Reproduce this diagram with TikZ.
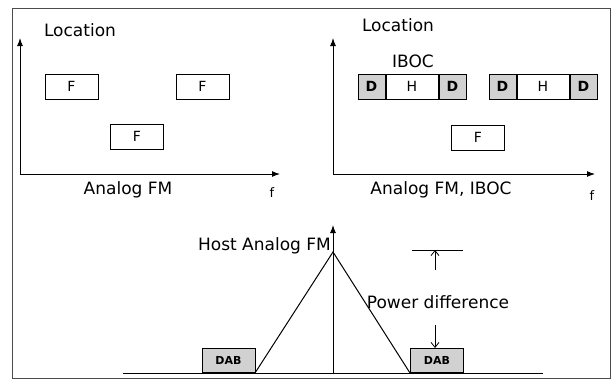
\documentclass[tikz,border=0pt]{standalone}
\usepackage{fontspec}
\setmainfont{DejaVu Sans}
\usetikzlibrary{arrows.meta, positioning}
\tikzstyle{fmbox} = [rectangle, draw=black, line width=1pt, minimum width=53pt, minimum height=25pt, inner sep=0pt, font=\fontsize{14}{16}\selectfont]
\tikzstyle{hbox} = [fmbox, minimum width=52pt]
\tikzstyle{dbox} = [fmbox, minimum width=27pt, fill=black!18, font=\fontsize{14}{16}\selectfont\bfseries]
\tikzstyle{dabbox} = [fmbox, minimum height=24pt, fill=black!18, font=\fontsize{11}{13}\selectfont\bfseries]
\tikzstyle{axis} = [line width=1pt, -{Latex[length=8pt,width=6pt]}]
\tikzstyle{thinarrow} = [line width=0.8pt, -{Straight Barb[length=5pt,width=8pt]}]
\tikzstyle{txt} = [inner sep=0pt, font=\fontsize{17}{20}\selectfont]

\begin{document}
\begin{tikzpicture}[x=1pt, y=-1pt]
  \useasboundingbox (0,0) rectangle (615,380);
  \draw[line width=0.8pt, black!70] (12,8) rectangle (610,378);

  % panel 1: analog FM
  \coordinate (o1) at (20,174);
  \coordinate (y1) at (20,38);
  \coordinate (x1) at (280,174);
  \draw[axis] (o1) -- (y1);
  \draw[axis] (o1) -- (x1);
  \node[txt] (loc1) at (80,30) {Location};
  \node[txt] (fm1) at (128,190) {Analog FM};
  \node[txt, font=\fontsize{13}{15}\selectfont] (f1) at (272,193) {f};
  \node[fmbox] (fa) at (71.5,86.5) {F};
  \node[fmbox] (fb) at (202.5,86.5) {F};
  \node[fmbox] (fc) at (137,136.5) {F};

  % panel 2: analog FM with IBOC
  \coordinate (o2) at (333,174);
  \coordinate (y2) at (333,38);
  \coordinate (x2) at (595,174);
  \draw[axis] (o2) -- (y2);
  \draw[axis] (o2) -- (x2);
  \node[txt] (loc2) at (398,25) {Location};
  \node[txt] (iboc) at (413,61) {IBOC};
  \node[txt] (fm2) at (441,190) {Analog FM, IBOC};
  \node[txt, font=\fontsize{13}{15}\selectfont] (f2) at (592,196) {f};
  \node[hbox] (h1) at (412,86.5) {H};
  \node[dbox, left=0pt of h1] (d1) {D};
  \node[dbox, right=0pt of h1] (d2) {D};
  \node[hbox] (h2) at (543,86.5) {H};
  \node[dbox, left=0pt of h2] (d3) {D};
  \node[dbox, right=0pt of h2] (d4) {D};
  \node[fmbox] (fd) at (478,137.5) {F};

  % spectrum: host FM and DAB
  \coordinate (b0) at (123,373);
  \coordinate (b1) at (543,373);
  \coordinate (top) at (333,225);
  \coordinate (mid) at (333,373);
  \coordinate (tl) at (255,373);
  \coordinate (tp) at (333,252);
  \coordinate (tr) at (410,373);
  \draw[line width=1pt] (b0) -- (b1);
  \draw[axis] (mid) -- (top);
  \draw[line width=1pt] (tl) -- (tp) -- (tr);
  \node[dabbox, anchor=south] (dab1) at (228.5,373) {DAB};
  \node[dabbox, anchor=south] (dab2) at (437,373) {DAB};
  \node[txt, anchor=east] (host) at (331,246) {Host Analog FM};

  \coordinate (pl) at (412,250);
  \coordinate (pr) at (463,250);
  \coordinate (pu) at (435,270);
  \coordinate (pd) at (435,325);
  \draw[line width=1pt] (pl) -- (pr);
  \node[txt] (pdiff) at (438,302) {Power difference};
  \draw[thinarrow] (pu) -- (pu |- pl);
  \draw[thinarrow] (pd) -- (pd |- dab2.north);
\end{tikzpicture}
\end{document}
